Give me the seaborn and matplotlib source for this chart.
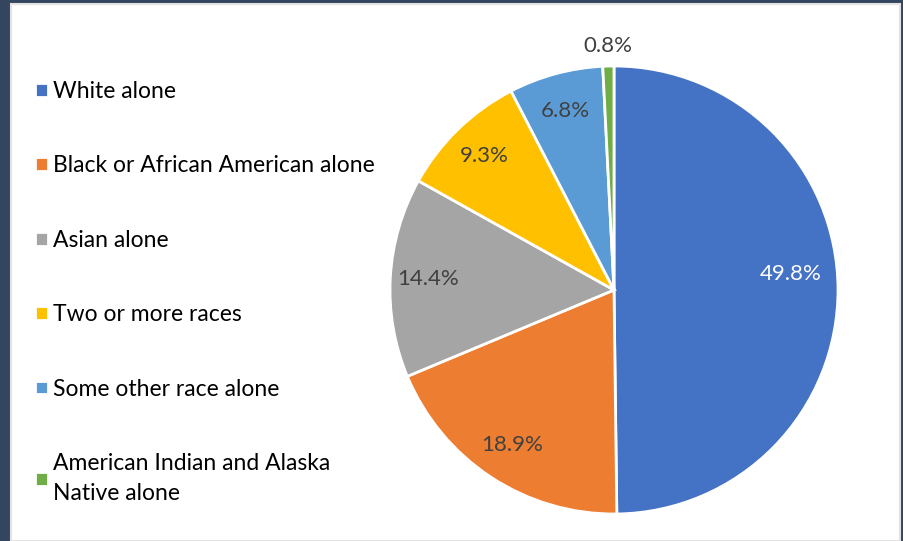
import matplotlib
matplotlib.use("Agg")
import matplotlib.pyplot as plt
from matplotlib.patches import Rectangle
import seaborn as sns

# Race shares (percent)
races = [
    "White alone",
    "Black or African American alone",
    "Asian alone",
    "Two or more races",
    "Some other race alone",
    "American Indian and Alaska\nNative alone",
]
shares = [49.8, 18.9, 14.4, 9.3, 6.8, 0.8]
colors = ["#4472C4", "#ED7D31", "#A5A5A5", "#FFC000", "#5B9BD5", "#70AD47"]

sns.set_theme(style="white")
plt.rcParams["font.family"] = ["Lato", "DejaVu Sans"]

W, H = 904, 541
fig = plt.figure(figsize=(W / 100, H / 100), dpi=100)
fig.patch.set_facecolor("#34465F")

# white slide area
fig.patches.append(Rectangle((11 / W, 0), 889 / W, (H - 4) / H,
                             transform=fig.transFigure, facecolor="white",
                             edgecolor="#E2E2E2", linewidth=1.5, zorder=-5))

# pie axes: centre (614, 290), radius 224 px
cx, cy, r = 614, 290, 224
ax = fig.add_axes([(cx - r) / W, (H - cy - r) / H, 2 * r / W, 2 * r / H])
ax.set_facecolor("none")
wedges, texts, autotexts = ax.pie(
    shares, colors=colors, startangle=90, counterclock=False,
    autopct="%.1f%%", pctdistance=0.83,
    wedgeprops=dict(edgecolor="white", linewidth=2),
    textprops=dict(fontsize=16, color="#404040"),
)
autotexts[0].set_color("white")
autotexts[0].set_position((0.79, 0.07))
# smallest slice label sits outside
x, y = autotexts[-1].get_position()
autotexts[-1].set_position((x / 0.83 * 1.09, y / 0.83 * 1.09))
ax.set_xlim(-1, 1)
ax.set_ylim(-1, 1)

leg = fig.legend(wedges, races, loc="upper left",
                 bbox_to_anchor=(35 / W, 1 - 81 / H),
                 frameon=False, fontsize=16.5, handlelength=0.55,
                 handleheight=0.55, handletextpad=0.25, labelspacing=2.33,
                 borderpad=0, borderaxespad=0, labelcolor="black")
for t in leg.get_texts():
    t.set_linespacing(1.55)

fig.savefig("out.png", dpi=100, facecolor=fig.get_facecolor())
